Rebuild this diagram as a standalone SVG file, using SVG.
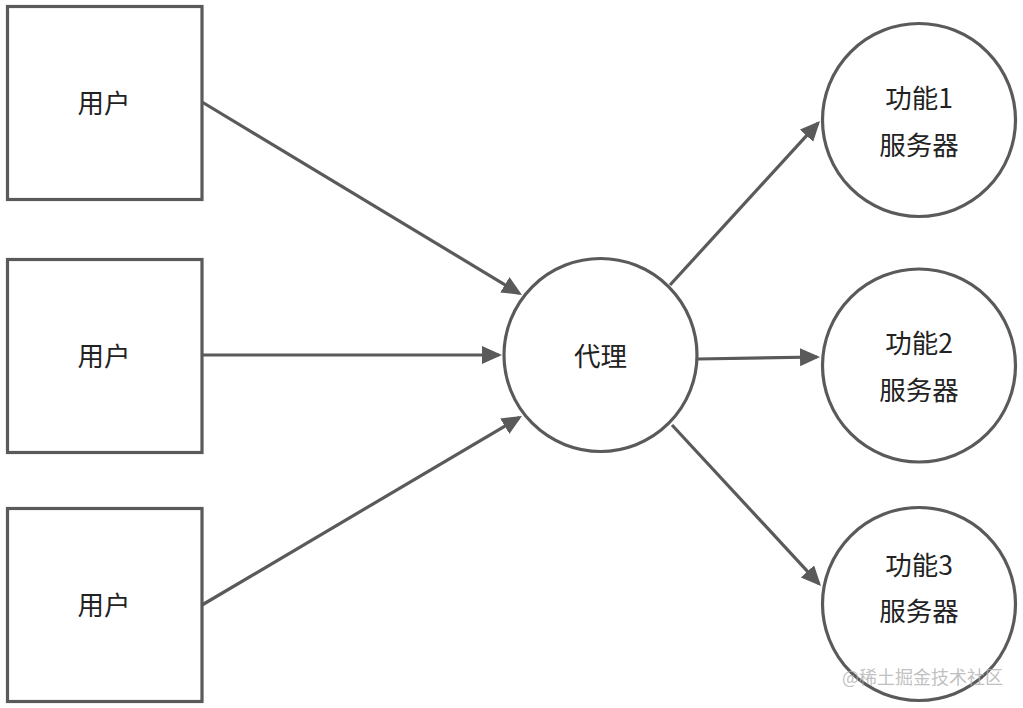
<svg xmlns="http://www.w3.org/2000/svg" width="1023" height="708" viewBox="0 0 1023 708">
<style>
.shape{fill:#fff;stroke:#5a5a5a;stroke-width:3.2}
.lbl{font-family:"Microsoft YaHei","Noto Sans CJK SC","Noto Sans",sans-serif;font-size:26.5px;fill:#222;text-anchor:middle;dominant-baseline:central}
.conn line{stroke:#5a5a5a;stroke-width:3.2;fill:none;marker-end:url(#arr)}
.wm{font-family:"Noto Sans CJK SC",sans-serif;font-size:18px;fill:#b0b0b0;fill-opacity:0.8;text-anchor:start}
</style>
<defs>
<marker id="arr" markerUnits="userSpaceOnUse" markerWidth="21" markerHeight="19" refX="17" refY="9" orient="auto">
<path d="M0,0 L20,9 L0,18 z" fill="#5a5a5a"/>
</marker>
</defs>
<rect width="1023" height="708" fill="#fff"/>
<g class="conn" id="connectors">
<line x1="202" y1="102" x2="519.4" y2="293.5"/>
<line x1="202" y1="355" x2="499" y2="355"/>
<line x1="202" y1="605" x2="519.4" y2="417.5"/>
<line x1="670" y1="285" x2="818" y2="123.2"/>
<line x1="698" y1="359" x2="817" y2="357"/>
<line x1="672" y1="425" x2="819" y2="583.8"/>
</g>
<g id="user1"><rect class="shape" x="7.5" y="6.5" width="194.5" height="193"/><text class="lbl" x="104" y="101">用户</text></g>
<g id="user2"><rect class="shape" x="7.5" y="259.5" width="194.5" height="193"/><text class="lbl" x="104" y="354">用户</text></g>
<g id="user3"><rect class="shape" x="7.5" y="508.5" width="194.5" height="193"/><text class="lbl" x="104" y="603">用户</text></g>
<g id="proxy"><circle class="shape" cx="600.5" cy="355" r="96.5"/><text class="lbl" x="600.5" y="354.5">代理</text></g>
<g id="server1"><circle class="shape" cx="919" cy="120" r="96.5"/><text class="lbl" x="919" y="96">功能1</text><text class="lbl" x="919" y="143">服务器</text></g>
<g id="server2"><circle class="shape" cx="919" cy="365.5" r="96.5"/><text class="lbl" x="919" y="341">功能2</text><text class="lbl" x="919" y="388">服务器</text></g>
<g id="server3"><circle class="shape" cx="919" cy="604" r="96.5"/><text class="lbl" x="919" y="563">功能3</text><text class="lbl" x="919" y="609">服务器</text></g>
<text class="wm" x="842" y="684">@稀土掘金技术社区</text>
</svg>
